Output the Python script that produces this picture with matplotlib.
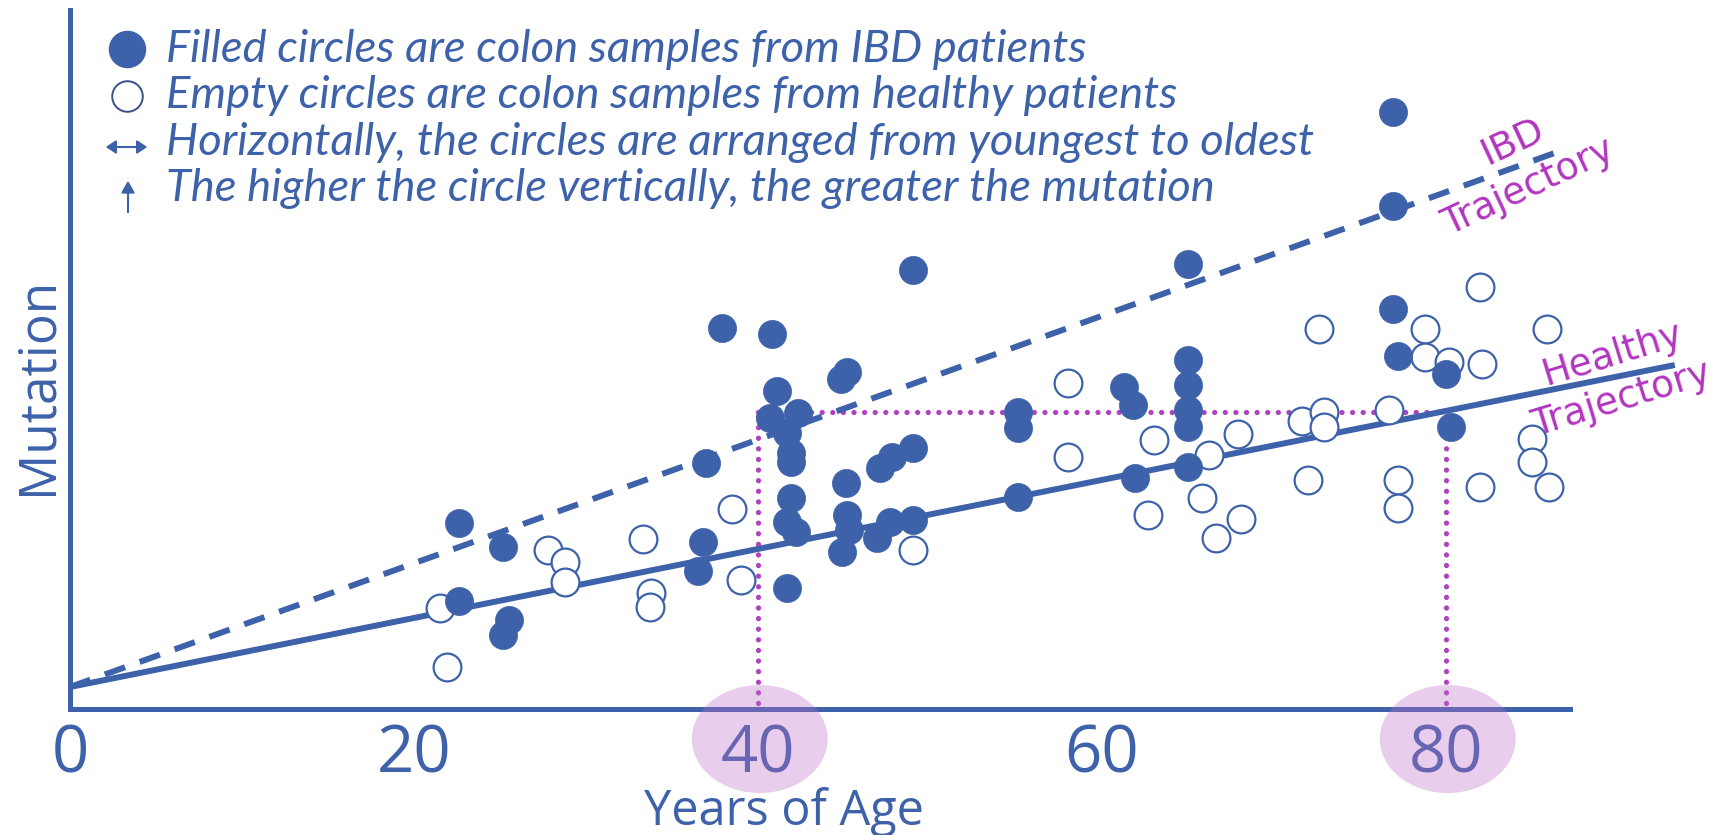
import matplotlib
matplotlib.use("Agg")
import matplotlib.pyplot as plt
from matplotlib.patches import Ellipse, FancyArrowPatch
from matplotlib.lines import Line2D

# ---------------- data ----------------
ibd_age = [22.6, 25.2, 22.6, 25.5, 25.2,
           37.0, 36.8, 36.5,
           37.9, 40.8, 45.2, 44.8,
           41.1, 40.7, 42.3, 41.7, 41.9, 41.9, 41.9, 41.7, 42.2, 41.7,
           49.0, 47.8, 47.1, 45.1, 45.2, 45.3, 44.9, 46.9, 47.7, 49.0,
           49.0, 65.0, 55.1, 55.1, 61.3, 61.8, 65.0, 65.0, 65.0, 65.0, 65.0, 61.9, 55.1,
           76.9, 76.9, 76.9, 77.2, 80.0, 80.3]
ibd_mut = [18.6, 16.2, 10.8, 8.9, 7.4,
           24.6, 16.7, 13.8,
           38.1, 37.5, 33.7, 33.0,
           31.8, 29.1, 29.6, 27.6, 25.6, 24.7, 21.1, 18.7, 17.7, 12.1,
           26.1, 25.2, 24.1, 22.6, 19.4, 17.9, 15.7, 17.1, 18.7, 18.9,
           43.9, 44.5, 29.7, 28.1, 32.2, 30.4, 34.9, 32.4, 29.9, 28.2, 24.2, 23.1, 21.2,
           59.7, 50.3, 40.0, 35.3, 33.5, 28.2]

healthy_age = [21.5, 27.8, 28.8, 28.8, 21.9, 33.3, 33.8, 33.7, 38.5, 39.0,
               49.0, 58.0, 58.0, 63.0, 66.2, 67.9, 65.8, 62.7, 66.6, 68.1,
               71.6, 72.9, 72.9, 72.0, 72.6,
               82.0, 78.8, 78.8, 80.2, 82.1, 85.9, 76.7, 77.2, 77.2, 82.0, 85.0, 85.0, 86.0]
healthy_mut = [10.1, 15.9, 14.7, 12.7, 4.2, 17.0, 11.6, 10.2, 20.0, 12.9,
               15.9, 32.6, 25.2, 26.9, 25.4, 27.5, 21.1, 19.4, 17.1, 19.0,
               28.8, 29.7, 28.2, 22.9, 38.0,
               42.2, 38.0, 35.2, 34.7, 34.5, 38.0, 29.9, 22.9, 20.1, 22.2, 27.0, 24.7, 22.2]

healthy_traj_age = [0, 93.3]
healthy_traj_mut = [2.2, 34.4]
ibd_traj_age = [0, 86.8]
ibd_traj_mut = [2.2, 55.9]

ref_ages = [40, 80]
ref_level = 29.7

xticks = [0, 20, 40, 60, 80]
xtick_labels = ["0", "20", "40", "60", "80"]

legend_lines = ["Filled circles are colon samples from IBD patients",
                "Empty circles are colon samples from healthy patients",
                "Horizontally, the circles are arranged from youngest to oldest",
                "The higher the circle vertically, the greater the mutation"]

# ---------------- style ----------------
BLUE = "#3D62A9"
MAGENTA = "#B236BF"
DOT = "#B042C2"
W, H = 1734, 835

fig = plt.figure(figsize=(W / 100, H / 100), dpi=100)

def fx(px):
    return px / W

def fy(py):
    return 1 - py / H

# axes: origin at pixel (70, 709), 17.2 px per year, 10 px per mutation unit
ax = fig.add_axes([fx(70), fy(709), (W - 70) / W, 709 / H])
ax.set_xlim(0, (W - 70) / 17.2)
ax.set_ylim(0, 70.9)
for s in ["top", "right"]:
    ax.spines[s].set_visible(False)
for s in ["left", "bottom"]:
    ax.spines[s].set_color(BLUE)
    ax.spines[s].set_linewidth(3.6)
ax.spines["bottom"].set_bounds(0, 87.2)
ax.spines["left"].set_bounds(0, 69.9)
ax.set_yticks([])
ax.set_xticks(xticks)
ax.set_xticklabels(xtick_labels, fontsize=47, color=BLUE, family="Open Sans")
ax.tick_params(axis="x", length=0, pad=10)

ax.set_xlabel("Years of Age", fontsize=35, color=BLUE, family="Open Sans")
ax.xaxis.label.set_va("baseline")
ax.xaxis.set_label_coords(0.429, -0.163)
ax.set_ylabel("Mutation", fontsize=37, color=BLUE, family="Open Sans")
ax.yaxis.label.set_va("center")
ax.yaxis.set_label_coords(-0.0192, 0.456)

# trajectories
ax.plot(healthy_traj_age, healthy_traj_mut, color=BLUE, lw=4.3,
        solid_capstyle="butt", zorder=3, clip_on=False)
ax.plot(ibd_traj_age, ibd_traj_mut, color=BLUE, lw=4.3, dashes=(3.6, 2.6),
        dash_capstyle="butt", zorder=3, clip_on=False)

# dotted reference lines
dot_kw = dict(color=DOT, lw=3.8, dashes=(0.01, 2.0),
              dash_capstyle="round", zorder=2.8, clip_on=False)
ax.plot([ref_ages[0], ref_ages[0]], [0.6, ref_level], **dot_kw)
ax.plot([ref_ages[1], ref_ages[1]], [0.6, ref_level], **dot_kw)
ax.plot([ref_ages[0], ref_ages[1]], [ref_level, ref_level], **dot_kw)

# samples
ax.scatter(healthy_age, healthy_mut, s=400, facecolor="white", edgecolor=BLUE,
           linewidth=1.6, zorder=4, clip_on=False)
ax.scatter(ibd_age, ibd_mut, s=410, facecolor=BLUE, edgecolor=BLUE,
           linewidth=0.5, zorder=5, clip_on=False)

# pink highlight ellipses over the 40 and 80 labels
for a in ref_ages:
    e = Ellipse((a + 0.1, -3.0), 7.9, 10.8, facecolor="#BE6EC8", alpha=0.34,
                edgecolor="none", zorder=6, clip_on=False)
    ax.add_patch(e)

# trajectory labels
tkw = dict(color=MAGENTA, fontsize=27, family="DejaVu Sans",
           ha="center", va="center", rotation_mode="anchor", zorder=7)
ax.text(83.9, 56.7, "IBD", rotation=25, **tkw)
ax.text(84.8, 52.2, "Trajectory", rotation=25, **tkw)
ax.text(89.7, 35.4, "Healthy", rotation=17, **tkw)
ax.text(90.2, 30.9, "Trajectory", rotation=17, **tkw)

# legend block
base_y = [62, 108, 155, 201]
txts = []
for line, by in zip(legend_lines, base_y):
    t = fig.text(fx(166), fy(by), line, fontsize=26, style="italic",
                 family="Lato", color=BLUE, ha="left", va="baseline")
    txts.append(t)
fig.canvas.draw()
r = fig.canvas.get_renderer()
w3 = txts[2].get_window_extent(r).width
scale = 1150 / w3
for t in txts:
    t.set_fontsize(26 * scale)

fig.add_artist(Line2D([fx(127)], [fy(49)], marker="o", markersize=26,
                      markerfacecolor=BLUE, markeredgecolor=BLUE,
                      transform=fig.transFigure))
fig.add_artist(Line2D([fx(127)], [fy(96)], marker="o", markersize=22,
                      markerfacecolor="white", markeredgecolor="#3A4F86",
                      markeredgewidth=1.4, transform=fig.transFigure))
fig.add_artist(FancyArrowPatch(
    (fx(103), fy(147)), (fx(150), fy(147)), transform=fig.transFigure,
    arrowstyle="<|-|>,head_length=6,head_width=4", color=BLUE, lw=1.5))
fig.add_artist(FancyArrowPatch(
    (fx(128), fy(215)), (fx(128), fy(178)), transform=fig.transFigure,
    arrowstyle="-|>,head_length=7,head_width=4", color=BLUE, lw=1.5))

fig.savefig("out.png", dpi=100)
